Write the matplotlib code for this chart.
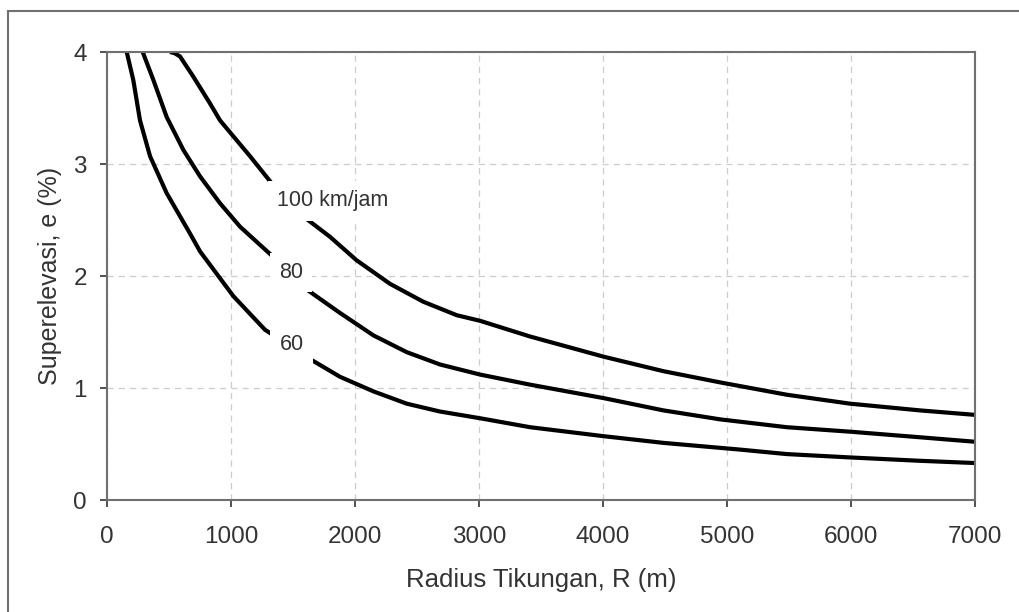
import matplotlib.pyplot as plt
from matplotlib.patches import Rectangle

plt.rcParams['font.family'] = ['Liberation Sans', 'DejaVu Sans']

# Superelevasi vs radius tikungan
r_60 = [159, 212, 266, 347, 481, 669, 750, 1019, 1274, 1650, 1879, 2148, 2417, 2685, 3008, 3411,
        4003, 4487, 5105, 5481, 5992, 6556, 7000]
e_60 = [4.0, 3.75, 3.39, 3.07, 2.74, 2.38, 2.22, 1.82, 1.52, 1.25, 1.10, 0.97, 0.86, 0.79, 0.73, 0.65,
        0.57, 0.51, 0.45, 0.41, 0.38, 0.35, 0.33]

r_80 = [288, 374, 481, 616, 750, 911, 1073, 1341, 1610, 1879, 2148, 2417, 2685, 3008, 3411,
        4003, 4487, 4944, 5481, 5992, 6556, 7000]
e_80 = [4.0, 3.75, 3.42, 3.125, 2.89, 2.65, 2.44, 2.17, 1.88, 1.67, 1.47, 1.32, 1.21, 1.12, 1.03,
        0.91, 0.80, 0.72, 0.65, 0.61, 0.56, 0.52]

r_100 = [508, 545, 589, 696, 831, 911, 1153, 1341, 1597, 1798, 2013, 2282, 2551, 2820, 3008, 3411,
         4003, 4487, 4944, 5481, 5992, 6556, 7000]
e_100 = [4.0, 3.99, 3.96, 3.78, 3.54, 3.39, 3.07, 2.81, 2.52, 2.35, 2.14, 1.93, 1.77, 1.65, 1.60, 1.46,
         1.28, 1.15, 1.05, 0.94, 0.86, 0.80, 0.76]

x_ticks = [0, 1000, 2000, 3000, 4000, 5000, 6000, 7000]
y_ticks = [0, 1, 2, 3, 4]

labels = [('100 km/jam', 1370, 2.67), ('80', 1390, 2.03), ('60', 1390, 1.39)]

fig = plt.figure(figsize=(10.19, 6.12), dpi=100)
ax = fig.add_axes([0.105, 0.183, 0.852, 0.732])

# outer frame (cropped on right and bottom in the original)
fig.patches.append(Rectangle((8 / 1019, -0.1), 1.2, 1 - 11 / 612 + 0.1,
                             transform=fig.transFigure, fill=False,
                             edgecolor='#707070', linewidth=1.5))

for r, e in [(r_60, e_60), (r_80, e_80), (r_100, e_100)]:
    ax.plot(r, e, color='black', linewidth=3.0, solid_capstyle='butt', zorder=2)

for txt, x, y in labels:
    ax.text(x, y, txt, fontsize=15.5, color='#333333', ha='left', va='center',
            bbox=dict(facecolor='white', edgecolor='none', pad=6.5), zorder=3)

ax.set_xlim(0, 7000)
ax.set_ylim(0, 4)
ax.set_xticks(x_ticks)
ax.set_yticks(y_ticks)
ax.tick_params(labelsize=17.5, colors='#333333', length=5, width=1.2)
ax.tick_params(axis='x', pad=14)
ax.tick_params(axis='y', pad=9.5)
ax.grid(True, linestyle=(0, (5, 4)), color='#cccccc', linewidth=0.9)
for s in ax.spines.values():
    s.set_color('#707070')
    s.set_linewidth(1.5)

ax.set_xlabel('Radius Tikungan, R (m)', fontsize=18.5, color='#333333')
ax.set_ylabel('Superelevasi, e (%)', fontsize=18, color='#333333')
ax.xaxis.set_label_coords(0.5, -0.152)
ax.yaxis.set_label_coords(-0.052, 0.5)

plt.savefig('out.png', dpi=100)
